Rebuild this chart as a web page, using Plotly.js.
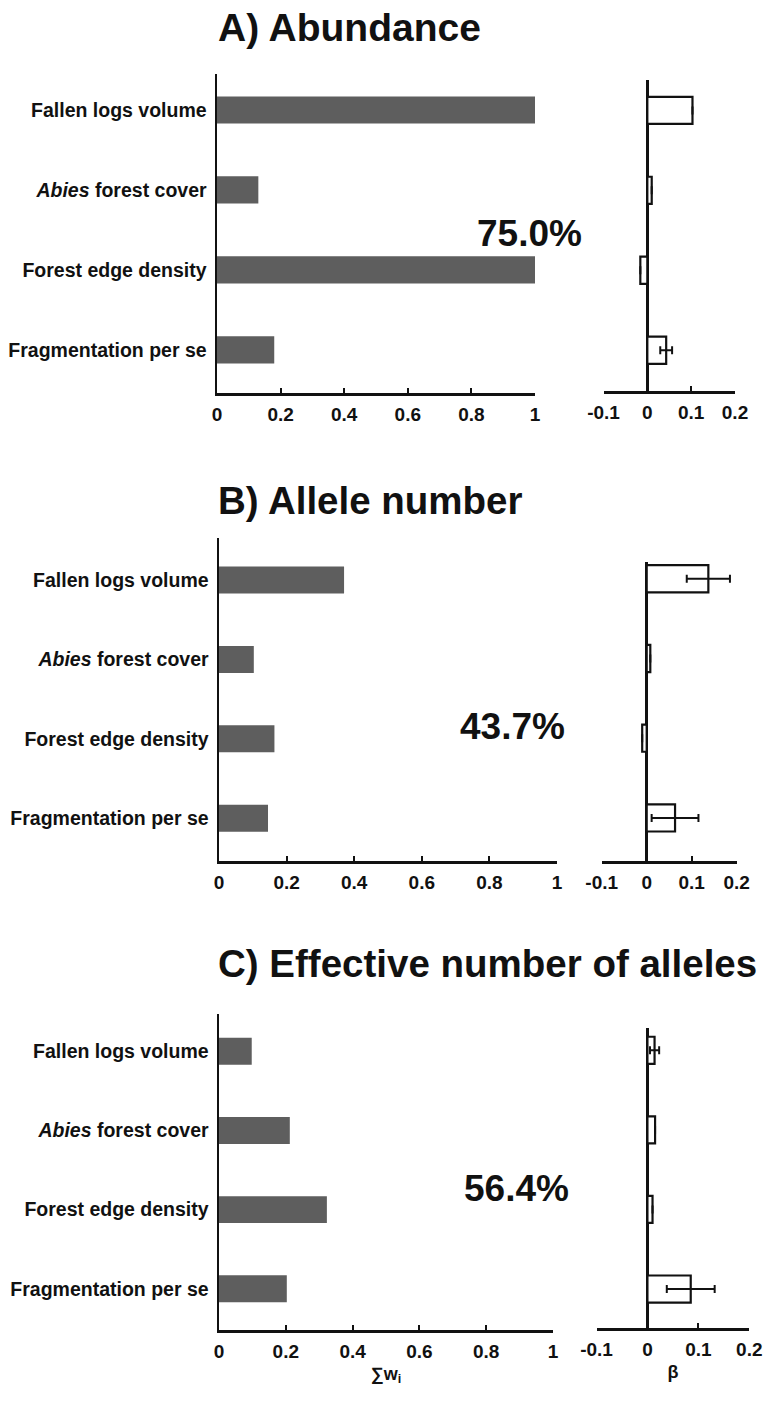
<!DOCTYPE html>
<html>
<head>
<meta charset="utf-8">
<script src="https://cdn.plot.ly/plotly-3.0.1.min.js"></script>
<style>html,body{margin:0;padding:0;background:#fff;}#chart{width:764px;height:1404px;}</style>
</head>
<body>
<div id="chart"></div>
<script>
// ---------- data ----------
const categories = ['Fallen logs volume', '<i>Abies</i> forest cover', 'Forest edge density', 'Fragmentation per se'];
const panelTitles = ['A) Abundance', 'B) Allele number', 'C) Effective number of alleles'];
const explained = ['75.0%', '43.7%', '56.4%'];

const weightsA = [1.0, 0.13, 1.0, 0.18];
const weightsB = [0.37, 0.103, 0.164, 0.145];
const weightsC = [0.098, 0.212, 0.323, 0.203];

const betaA = [0.103, 0.010, -0.016, 0.043];
const betaErrA = [null, null, null, 0.0135];
const betaB = [0.137, 0.008, -0.010, 0.063];
const betaErrB = [0.048, null, null, 0.052];
const betaC = [0.014, 0.015, 0.010, 0.085];
const betaErrC = [0.009, null, null, 0.047];

const weightTicks = [0, 0.2, 0.4, 0.6, 0.8, 1];
const weightTickText = ['0', '0.2', '0.4', '0.6', '0.8', '1'];
const betaTicks = [-0.1, 0, 0.1, 0.2];
const betaTickText = ['-0.1', '0', '0.1', '0.2'];
const xTitleLeft = '∑w<sub>i</sub>';
const xTitleRight = 'β';

// ---------- layout helpers ----------
const W = 764, H = 1404;
const FONT = 'Liberation Sans, Arial, Helvetica, sans-serif';
const INK = '#111111';
const catOrder = categories.slice().reverse();
const dx = (a, b) => [a / W, b / W];
const dy = (top, bottom) => [1 - bottom / H, 1 - top / H];

const panels = [
  {w: weightsA, b: betaA, e: betaErrA,
   lx: [217, 535], ly: [74, 393], lr: [-0.54, 3.45],
   rx: [603.5, 735], ry: [80, 391], rr: [-0.51, 3.38],
   titleY: 27, titleSize: 39, pct: [529, 233]},
  {w: weightsB, b: betaB, e: betaErrB,
   lx: [219, 557], ly: [538, 861], lr: [-0.54, 3.53],
   rx: [601.7, 736.7], ry: [562, 861], rr: [-0.54, 3.21],
   titleY: 500, titleSize: 38.5, pct: [512, 726]},
  {w: weightsC, b: betaC, e: betaErrC,
   lx: [219, 553], ly: [1014, 1330], lr: [-0.52, 3.47],
   rx: [596.5, 749.3], ry: [1028, 1328], rr: [-0.49, 3.28],
   titleY: 963, titleSize: 38.5, pct: [516, 1188]}
];

const data = [];
const layout = {
  width: W, height: H,
  margin: {l: 0, r: 0, t: 0, b: 0},
  paper_bgcolor: '#ffffff', plot_bgcolor: 'rgba(0,0,0,0)',
  showlegend: false,
  font: {family: FONT, color: INK},
  annotations: []
};

const tickFont = {family: FONT, size: 19, color: INK, weight: 'bold'};
const catFont = {family: FONT, size: 19.5, color: INK, weight: 'bold'};

panels.forEach((p, i) => {
  const lxName = 'x' + (2 * i + 1), rxName = 'x' + (2 * i + 2);
  const lyName = 'y' + (2 * i + 1), ryName = 'y' + (2 * i + 2);
  const lxKey = 'xaxis' + (2 * i + 1), rxKey = 'xaxis' + (2 * i + 2);
  const lyKey = 'yaxis' + (2 * i + 1), ryKey = 'yaxis' + (2 * i + 2);

  data.push({
    type: 'bar', orientation: 'h', x: p.w, y: categories,
    xaxis: lxName, yaxis: lyName, width: 0.34,
    marker: {color: '#5e5e5e', line: {width: 0}},
    hoverinfo: 'x+y'
  });
  data.push({
    type: 'bar', orientation: 'h', x: p.b, y: categories,
    xaxis: rxName, yaxis: ryName, width: 0.34,
    marker: {color: '#ffffff', line: {color: INK, width: 2.2}},
    error_x: {type: 'data', array: p.e, visible: true, color: INK, thickness: 2, width: 4},
    hoverinfo: 'x+y'
  });

  layout[lxKey] = {
    domain: dx(p.lx[0], p.lx[1]), anchor: lyName, range: [0, 1],
    tickvals: weightTicks, ticktext: weightTickText,
    showline: true, linecolor: INK, linewidth: 2.5,
    ticks: 'inside', ticklen: 5, tickwidth: 2, tickcolor: INK,
    showgrid: false, zeroline: false, tickfont: tickFont,
    ticklabelstandoff: 3
  };
  layout[lyKey] = {
    domain: dy(p.ly[0], p.ly[1]), anchor: lxName,
    type: 'category', categoryorder: 'array', categoryarray: catOrder,
    range: p.lr, showline: true, linecolor: INK, linewidth: 2.5,
    ticks: '', showgrid: false, zeroline: false, tickfont: catFont,
    ticklabelstandoff: 4
  };
  layout[rxKey] = {
    domain: dx(p.rx[0], p.rx[1]), anchor: ryName, range: [-0.1, 0.2],
    tickvals: betaTicks, ticktext: betaTickText,
    showline: true, linecolor: INK, linewidth: 2.5,
    ticks: 'inside', ticklen: 5, tickwidth: 2, tickcolor: INK,
    showgrid: false, zeroline: true, zerolinecolor: INK, zerolinewidth: 2.5,
    tickfont: tickFont, ticklabelstandoff: 3
  };
  layout[ryKey] = {
    domain: dy(p.ry[0], p.ry[1]), anchor: rxName,
    type: 'category', categoryorder: 'array', categoryarray: catOrder,
    range: p.rr, showline: false, showticklabels: false, ticks: '',
    showgrid: false, zeroline: false
  };

  layout.annotations.push({
    xref: 'paper', yref: 'paper', x: 216 / W, y: 1 - p.titleY / H,
    xanchor: 'left', yanchor: 'middle', showarrow: false,
    text: panelTitles[i],
    font: {family: FONT, size: p.titleSize, color: INK, weight: 'bold'}
  });
  layout.annotations.push({
    xref: 'paper', yref: 'paper', x: p.pct[0] / W, y: 1 - p.pct[1] / H,
    xanchor: 'center', yanchor: 'middle', showarrow: false,
    text: explained[i],
    font: {family: FONT, size: 37, color: INK, weight: 'bold'}
  });
});

layout.xaxis5.title = {text: xTitleLeft, font: {family: FONT, size: 18, color: INK, weight: 'bold'}, standoff: 6};
layout.xaxis6.title = {text: xTitleRight, font: {family: FONT, size: 18, color: INK, weight: 'bold'}, standoff: 6};

Plotly.newPlot('chart', data, layout, {staticPlot: true, displayModeBar: false});
</script>
</body>
</html>
